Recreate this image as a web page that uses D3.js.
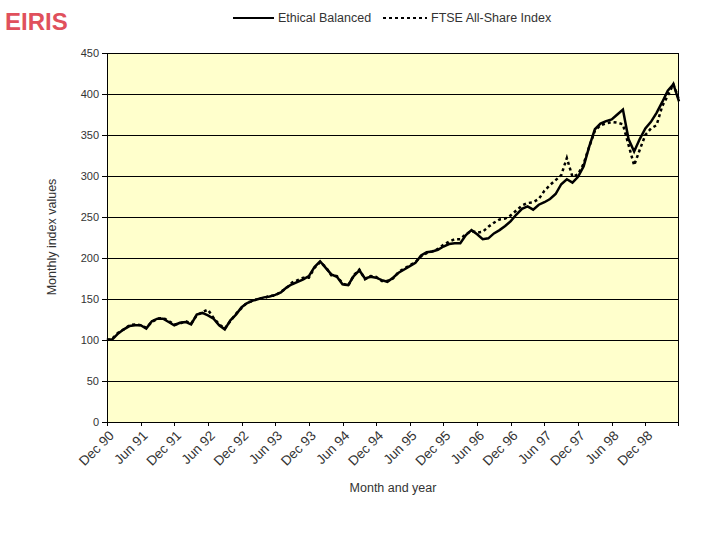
<!DOCTYPE html>
<html lang="en">
<head>
  <meta charset="UTF-8">
  <title>EIRIS Ethical Balanced vs FTSE All-Share</title>
  <script src="https://d3js.org/d3.v7.min.js"></script>
  <style>
    body { margin: 0; background: #fff; }
    svg { display: block; font-family: "Liberation Sans", Arial, sans-serif; }
    .axis text { fill: #333; }
    .axis path, .axis line { stroke: #000; shape-rendering: crispEdges; }
  </style>
</head>
<body>
  <div id="chart"></div>
  <script>
    // Month labels shown every 6 months (month index 0 = Dec 90)
    const tickLabels = ['Dec 90', 'Jun 91', 'Dec 91', 'Jun 92', 'Dec 92', 'Jun 93', 'Dec 93', 'Jun 94',
      'Dec 94', 'Jun 95', 'Dec 95', 'Jun 96', 'Dec 96', 'Jun 97', 'Dec 97', 'Jun 98', 'Dec 98'];
    const yTicks = [0, 50, 100, 150, 200, 250, 300, 350, 400, 450];

    // Monthly index values, Dec 90 .. Jun 99
    const ethical = [
      100, 101, 108, 113, 117, 118, 118, 114, 123, 126,
      126, 122, 118, 121, 122, 119, 131, 133, 130, 126,
      118, 113, 124, 131, 140, 145, 148, 150, 152, 153,
      155, 158, 164, 168, 171, 174, 178, 189, 196, 188,
      180, 177, 168, 167, 178, 185, 175, 177, 176, 173,
      171, 176, 182, 186, 190, 194, 203, 207, 208, 210,
      214, 217, 218, 218, 228, 234, 229, 223, 224, 230,
      234, 239, 245, 253, 260, 263, 259, 265, 268, 272,
      278, 290, 296, 292, 299, 312, 336, 357, 364, 367,
      369, 375, 381, 345, 330, 345, 358, 366, 377, 390,
      404, 412, 391
    ];
    const ftse = [
      100, 102, 109, 113, 118, 119, 118, 115, 122, 126,
      127, 123, 119, 120, 123, 120, 130, 134, 137, 127,
      119, 114, 123, 132, 139, 146, 147, 151, 151, 154,
      154, 159, 163, 170, 173, 176, 176, 188, 195, 189,
      179, 178, 169, 166, 179, 186, 174, 178, 177, 172,
      172, 175, 183, 187, 191, 195, 202, 206, 208, 211,
      216, 220, 223, 223, 229, 233, 231, 232, 238, 243,
      247, 248, 252, 258, 264, 267, 268, 272, 282, 289,
      295, 301, 322, 299, 302, 315, 336, 355, 362, 364,
      366, 365, 363, 338, 313, 332, 350, 358, 362, 385,
      398, 412, 393
    ];

    const width = 720, height = 540;
    const margin = { top: 53, right: 41, bottom: 118, left: 107 };
    const innerWidth = width - margin.left - margin.right;
    const innerHeight = height - margin.top - margin.bottom;

    const svg = d3.select('#chart').append('svg')
      .attr('width', width)
      .attr('height', height);

    // Logo
    svg.append('text')
      .attr('x', 5).attr('y', 30)
      .attr('font-size', 24).attr('font-weight', 'bold')
      .attr('fill', '#e0505c')
      .text('EIRIS');

    // Legend
    const legend = svg.append('g').attr('transform', 'translate(233, 18)');
    legend.append('line').attr('x1', 0).attr('x2', 41).attr('y1', 0).attr('y2', 0)
      .attr('stroke', '#000').attr('stroke-width', 2);
    legend.append('text').attr('x', 45).attr('y', 4).attr('font-size', 12.5).attr('fill', '#333')
      .text('Ethical Balanced');
    legend.append('line').attr('x1', 150).attr('x2', 194).attr('y1', 0).attr('y2', 0)
      .attr('stroke', '#000').attr('stroke-width', 2).attr('stroke-dasharray', '3,3');
    legend.append('text').attr('x', 198).attr('y', 4).attr('font-size', 12.5).attr('fill', '#333')
      .text('FTSE All-Share Index');

    const g = svg.append('g')
      .attr('transform', `translate(${margin.left}, ${margin.top})`);

    const xScale = d3.scaleLinear()
      .domain([0, ethical.length - 1])
      .range([0, innerWidth]);
    const yScale = d3.scaleLinear()
      .domain([0, 450])
      .range([innerHeight, 0]);

    // Plot background
    g.append('rect')
      .attr('width', innerWidth).attr('height', innerHeight)
      .attr('fill', '#ffffcc');

    // Gridlines
    g.append('g')
      .selectAll('line')
      .data(yTicks.filter(d => d > 0))
      .join('line')
      .attr('x1', 0).attr('x2', innerWidth)
      .attr('y1', d => Math.round(yScale(d)) + 0.5)
      .attr('y2', d => Math.round(yScale(d)) + 0.5)
      .attr('stroke', '#000').attr('stroke-width', 1);

    // Right border (runs down past the axis like a last tick)
    g.append('line')
      .attr('x1', innerWidth - 0.5).attr('x2', innerWidth - 0.5)
      .attr('y1', 0).attr('y2', innerHeight + 4)
      .attr('stroke', '#000');

    // Y axis
    g.append('g')
      .attr('class', 'axis')
      .call(d3.axisLeft(yScale).tickValues(yTicks).tickSize(5).tickPadding(3))
      .attr('font-size', 11)
      .call(a => a.select('.domain').attr('d', `M0.5,${innerHeight}V0`));

    // X axis: ticks every 6 months, labels rotated
    const xTickVals = tickLabels.map((d, i) => i * 6);
    const xAxis = g.append('g')
      .attr('class', 'axis')
      .attr('transform', `translate(0, ${innerHeight})`)
      .call(d3.axisBottom(xScale).tickValues(xTickVals).tickSize(4)
        .tickFormat((d, i) => tickLabels[i]))
      .attr('font-size', 13.5);
    xAxis.select('.domain').attr('d', `M0,0.5H${innerWidth}`);
    xAxis.selectAll('.tick text')
      .attr('text-anchor', 'end')
      .attr('transform', 'translate(4, 11) rotate(-45)')
      .attr('x', 0).attr('y', 0).attr('dy', '0.35em');

    // Lines
    const line = d3.line()
      .x((d, i) => xScale(i))
      .y(d => yScale(d));

    g.append('path')
      .datum(ftse)
      .attr('fill', 'none')
      .attr('stroke', '#000')
      .attr('stroke-width', 2.5)
      .attr('stroke-dasharray', '3,3')
      .attr('d', line);

    g.append('path')
      .datum(ethical)
      .attr('fill', 'none')
      .attr('stroke', '#000')
      .attr('stroke-width', 2.5)
      .attr('d', line);

    // Axis titles
    svg.append('text')
      .attr('text-anchor', 'middle')
      .attr('x', 393).attr('y', 492)
      .attr('font-size', 12.5).attr('fill', '#333')
      .text('Month and year');

    svg.append('text')
      .attr('text-anchor', 'middle')
      .attr('transform', 'rotate(-90)')
      .attr('x', -237).attr('y', 56)
      .attr('font-size', 12.5).attr('fill', '#333')
      .text('Monthly index values');
  </script>
</body>
</html>
